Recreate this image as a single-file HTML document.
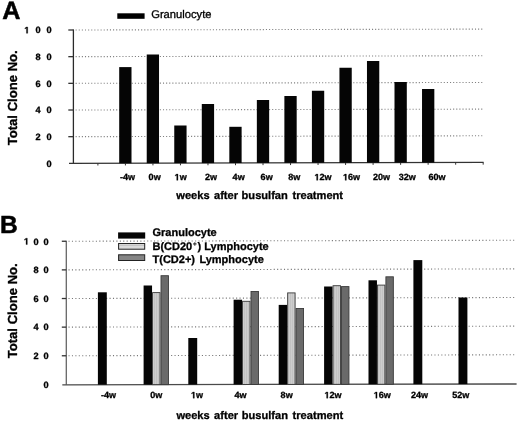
<!DOCTYPE html>
<html><head><meta charset="utf-8"><style>
html,body{margin:0;padding:0;background:#fff;}
body{width:520px;height:423px;overflow:hidden;}
svg{display:block;font-family:"Liberation Sans", sans-serif;will-change:transform;filter:blur(0.25px);text-rendering:geometricPrecision;}
text{stroke:#000;stroke-width:.3px;}
.big{stroke-width:.5px;}
.sup{stroke:#222;fill:#111;stroke-width:.25px;}
.one{stroke:#000;stroke-width:.3px;vector-effect:non-scaling-stroke;}
.grid{stroke:#777;stroke-width:1.1px;}
.gA{stroke:#808080;}
.axis{stroke:#444;stroke-width:1.3px;}
.xaxis{stroke:#333;stroke-width:1.3px;}
.tick{stroke:#333;stroke-width:1.3px;}
</style></head><body>
<svg width="520" height="423" viewBox="0 0 520 423" fill="#000">
<rect width="520" height="423" fill="#fff"/>
<text x="2.2" y="18.7" font-size="25.2" font-weight="bold" class="big">A</text>
<rect x="117.3" y="13.3" width="27.3" height="5.5" fill="#000"/>
<text x="151.2" y="17.8" font-size="11.2">Granulocyte</text>
<line x1="75.60000000000001" y1="136.67" x2="482.8" y2="135.78" class="grid gA" stroke-dasharray="1.1 2.02"/>
<line x1="75.60000000000001" y1="110.00" x2="482.8" y2="109.11" class="grid gA" stroke-dasharray="1.1 2.02"/>
<line x1="75.60000000000001" y1="83.33" x2="482.8" y2="82.44" class="grid gA" stroke-dasharray="1.1 2.02"/>
<line x1="75.60000000000001" y1="56.66" x2="482.8" y2="55.77" class="grid gA" stroke-dasharray="1.1 2.02"/>
<line x1="75.60000000000001" y1="29.99" x2="482.8" y2="29.10" class="grid gA" stroke-dasharray="1.1 2.02"/>
<line x1="73.4" y1="29.40" x2="73.4" y2="163.35" class="axis" style="stroke:#2a2a2a"/>
<line x1="68.3" y1="136.68" x2="73.4" y2="136.68" class="tick"/>
<line x1="68.3" y1="110.01" x2="73.4" y2="110.01" class="tick"/>
<line x1="68.3" y1="83.34" x2="73.4" y2="83.34" class="tick"/>
<line x1="68.3" y1="56.67" x2="73.4" y2="56.67" class="tick"/>
<line x1="68.3" y1="30.00" x2="73.4" y2="30.00" class="tick"/>
<line x1="69.0" y1="163.36" x2="483.6" y2="162.45" class="xaxis"/>
<line x1="97.90" y1="163.30" x2="97.90" y2="165.50" stroke="#333" stroke-width="1"/>
<line x1="125.42" y1="163.23" x2="125.42" y2="165.43" stroke="#333" stroke-width="1"/>
<line x1="152.94" y1="163.17" x2="152.94" y2="165.37" stroke="#333" stroke-width="1"/>
<line x1="180.46" y1="163.11" x2="180.46" y2="165.31" stroke="#333" stroke-width="1"/>
<line x1="207.98" y1="163.05" x2="207.98" y2="165.25" stroke="#333" stroke-width="1"/>
<line x1="235.50" y1="162.99" x2="235.50" y2="165.19" stroke="#333" stroke-width="1"/>
<line x1="263.02" y1="162.93" x2="263.02" y2="165.13" stroke="#333" stroke-width="1"/>
<line x1="290.54" y1="162.87" x2="290.54" y2="165.07" stroke="#333" stroke-width="1"/>
<line x1="318.06" y1="162.81" x2="318.06" y2="165.01" stroke="#333" stroke-width="1"/>
<line x1="345.58" y1="162.75" x2="345.58" y2="164.95" stroke="#333" stroke-width="1"/>
<line x1="373.10" y1="162.69" x2="373.10" y2="164.89" stroke="#333" stroke-width="1"/>
<line x1="400.62" y1="162.63" x2="400.62" y2="164.83" stroke="#333" stroke-width="1"/>
<line x1="428.14" y1="162.57" x2="428.14" y2="164.77" stroke="#333" stroke-width="1"/>
<line x1="455.66" y1="162.51" x2="455.66" y2="164.71" stroke="#333" stroke-width="1"/>
<line x1="483.18" y1="162.45" x2="483.18" y2="164.65" stroke="#333" stroke-width="1"/>
<rect x="119.20" y="67.10" width="12.3" height="96.14" fill="#050505"/>
<rect x="146.73" y="54.50" width="12.3" height="108.67" fill="#050505"/>
<rect x="174.26" y="125.50" width="12.3" height="37.61" fill="#050505"/>
<rect x="201.79" y="104.00" width="12.3" height="59.05" fill="#050505"/>
<rect x="229.32" y="126.80" width="12.3" height="36.19" fill="#050505"/>
<rect x="256.85" y="100.00" width="12.3" height="62.93" fill="#050505"/>
<rect x="284.38" y="96.00" width="12.3" height="66.87" fill="#050505"/>
<rect x="311.91" y="90.75" width="12.3" height="72.06" fill="#050505"/>
<rect x="339.44" y="67.75" width="12.3" height="95.00" fill="#050505"/>
<rect x="366.97" y="61.00" width="12.3" height="101.69" fill="#050505"/>
<rect x="394.50" y="82.00" width="12.3" height="80.63" fill="#050505"/>
<rect x="422.03" y="89.00" width="12.3" height="73.57" fill="#050505"/>
<text x="46.50" y="166.65" font-size="9.2" font-weight="bold" xml:space="preserve">0</text>
<text x="35.40" y="139.98" font-size="9.2" font-weight="bold" xml:space="preserve">2</text>
<text x="46.50" y="139.98" font-size="9.2" font-weight="bold" xml:space="preserve">0</text>
<text x="35.40" y="113.31" font-size="9.2" font-weight="bold" xml:space="preserve">4</text>
<text x="46.50" y="113.31" font-size="9.2" font-weight="bold" xml:space="preserve">0</text>
<text x="35.40" y="86.64" font-size="9.2" font-weight="bold" xml:space="preserve">6</text>
<text x="46.50" y="86.64" font-size="9.2" font-weight="bold" xml:space="preserve">0</text>
<text x="35.40" y="59.97" font-size="9.2" font-weight="bold" xml:space="preserve">8</text>
<text x="46.50" y="59.97" font-size="9.2" font-weight="bold" xml:space="preserve">0</text>
<path class="one" d="M478 0L478 1170L140 959L140 1180L493 1409L759 1409L759 0Z" transform="translate(24.30,33.30) scale(0.00449,-0.00449)"/>
<text x="35.40" y="33.30" font-size="9.2" font-weight="bold" xml:space="preserve">0</text>
<text x="46.50" y="33.30" font-size="9.2" font-weight="bold" xml:space="preserve">0</text>
<text x="120.00" y="180.30" font-size="9.05" font-weight="bold" xml:space="preserve">-4w</text>
<text x="148.60" y="180.30" font-size="9.05" font-weight="bold" xml:space="preserve">0w</text>
<path class="one" d="M478 0L478 1170L140 959L140 1180L493 1409L759 1409L759 0Z" transform="translate(174.60,180.30) scale(0.00442,-0.00442)"/><text x="179.63" y="180.30" font-size="9.05" font-weight="bold" xml:space="preserve">w</text>
<text x="205.00" y="180.30" font-size="9.05" font-weight="bold" xml:space="preserve">2w</text>
<text x="232.60" y="180.30" font-size="9.05" font-weight="bold" xml:space="preserve">4w</text>
<text x="260.60" y="180.30" font-size="9.05" font-weight="bold" xml:space="preserve">6w</text>
<text x="288.30" y="180.30" font-size="9.05" font-weight="bold" xml:space="preserve">8w</text>
<path class="one" d="M478 0L478 1170L140 959L140 1180L493 1409L759 1409L759 0Z" transform="translate(314.50,180.30) scale(0.00442,-0.00442)"/><text x="319.53" y="180.30" font-size="9.05" font-weight="bold" xml:space="preserve">2w</text>
<path class="one" d="M478 0L478 1170L140 959L140 1180L493 1409L759 1409L759 0Z" transform="translate(343.00,180.30) scale(0.00442,-0.00442)"/><text x="348.03" y="180.30" font-size="9.05" font-weight="bold" xml:space="preserve">6w</text>
<text x="373.00" y="180.30" font-size="9.05" font-weight="bold" xml:space="preserve">20w</text>
<text x="398.80" y="180.30" font-size="9.05" font-weight="bold" xml:space="preserve">32w</text>
<text x="428.40" y="180.30" font-size="9.05" font-weight="bold" xml:space="preserve">60w</text>
<text x="176.30" y="198.8" font-size="11.1" font-weight="bold">weeks</text><text x="214.00" y="198.8" font-size="11.1" font-weight="bold">after</text><text x="241.60" y="198.8" font-size="11.1" font-weight="bold">busulfan</text><text x="292.50" y="198.8" font-size="11.1" font-weight="bold">treatment</text>
<text transform="translate(17.2,145.3) rotate(-90)" x="0" y="0" font-size="13.1" font-weight="bold">Total Clone No.</text>
<text x="0.0" y="232.8" font-size="24.6" font-weight="bold" class="big">B</text>
<line x1="68.5" y1="355.76" x2="516" y2="354.78" class="grid" stroke-dasharray="1.1 2.32"/>
<line x1="68.5" y1="327.13" x2="516" y2="326.15" class="grid" stroke-dasharray="1.1 2.32"/>
<line x1="68.5" y1="298.50" x2="516" y2="297.52" class="grid" stroke-dasharray="1.1 2.32"/>
<line x1="68.5" y1="269.87" x2="516" y2="268.89" class="grid" stroke-dasharray="1.1 2.32"/>
<line x1="68.5" y1="241.24" x2="516" y2="240.26" class="grid" stroke-dasharray="1.1 2.32"/>
<line x1="66.3" y1="240.65" x2="66.3" y2="384.79" class="axis" style="stroke:#666"/>
<line x1="61.8" y1="355.77" x2="66.3" y2="355.77" class="tick"/>
<line x1="61.8" y1="327.14" x2="66.3" y2="327.14" class="tick"/>
<line x1="61.8" y1="298.51" x2="66.3" y2="298.51" class="tick"/>
<line x1="61.8" y1="269.88" x2="66.3" y2="269.88" class="tick"/>
<line x1="61.8" y1="241.25" x2="66.3" y2="241.25" class="tick"/>
<line x1="62.3" y1="384.80" x2="516.6" y2="384.00" class="xaxis" style="stroke:#4a4a4a"/>
<defs><pattern id="dots" width="2" height="2" patternUnits="userSpaceOnUse"><rect width="2" height="2" fill="#cdcdcd"/><rect width="1" height="2" fill="#c2c2c2"/></pattern></defs>
<rect x="118.1" y="232.4" width="27.1" height="6.2" fill="#050505"/>
<rect x="118.6" y="243.5" width="26.1" height="5.7" fill="#dadada" stroke="#222" stroke-width="1"/>
<line x1="119.3" y1="245.3" x2="144.0" y2="245.3" stroke="#b8b8b8" stroke-width="0.8"/>
<rect x="118.6" y="254.8" width="26.1" height="5.7" fill="#858585" stroke="#222" stroke-width="1"/>
<text x="152.5" y="236.4" font-size="11" font-weight="bold">Granulocyte</text>
<text x="152.5" y="249.6" font-size="11" font-weight="bold">B(CD20</text>
<text x="192.9" y="246.0" font-size="6.2" font-weight="bold" class="sup">+</text>
<text x="197.5" y="249.6" font-size="11" font-weight="bold">)</text>
<text x="204.3" y="249.6" font-size="11" font-weight="bold">Lymphocyte</text>
<text x="152.5" y="262.9" font-size="11" font-weight="bold">T(CD2+)</text>
<text x="199.4" y="262.9" font-size="11" font-weight="bold">Lymphocyte</text>
<rect x="97.90" y="292.30" width="8.9" height="92.42" fill="#050505"/>
<rect x="143.60" y="285.50" width="8.45" height="99.14" fill="#050505"/>
<rect x="152.55" y="292.60" width="7.449999999999999" height="92.04" fill="url(#dots)" stroke="#3a3a3a" stroke-width="0.9"/>
<rect x="161.00" y="275.70" width="7.449999999999999" height="108.94" fill="#6a6a6a" stroke="#3a3a3a" stroke-width="0.9"/>
<rect x="188.30" y="338.00" width="8.9" height="46.56" fill="#050505"/>
<rect x="233.60" y="299.70" width="8.45" height="84.78" fill="#050505"/>
<rect x="242.55" y="301.30" width="7.449999999999999" height="83.18" fill="url(#dots)" stroke="#3a3a3a" stroke-width="0.9"/>
<rect x="251.00" y="291.50" width="7.449999999999999" height="92.98" fill="#6a6a6a" stroke="#3a3a3a" stroke-width="0.9"/>
<rect x="278.70" y="304.90" width="8.45" height="79.50" fill="#050505"/>
<rect x="287.65" y="292.90" width="7.449999999999999" height="91.50" fill="url(#dots)" stroke="#3a3a3a" stroke-width="0.9"/>
<rect x="296.10" y="308.50" width="7.449999999999999" height="75.90" fill="#6a6a6a" stroke="#3a3a3a" stroke-width="0.9"/>
<rect x="324.10" y="286.50" width="8.45" height="97.82" fill="#050505"/>
<rect x="333.05" y="285.70" width="7.449999999999999" height="98.62" fill="url(#dots)" stroke="#3a3a3a" stroke-width="0.9"/>
<rect x="341.50" y="286.60" width="7.449999999999999" height="97.72" fill="#6a6a6a" stroke="#3a3a3a" stroke-width="0.9"/>
<rect x="368.50" y="280.30" width="8.45" height="103.94" fill="#050505"/>
<rect x="377.45" y="285.10" width="7.449999999999999" height="99.14" fill="url(#dots)" stroke="#3a3a3a" stroke-width="0.9"/>
<rect x="385.90" y="276.80" width="7.449999999999999" height="107.44" fill="#6a6a6a" stroke="#3a3a3a" stroke-width="0.9"/>
<rect x="413.40" y="260.10" width="8.9" height="124.06" fill="#050505"/>
<rect x="458.50" y="297.50" width="8.9" height="86.58" fill="#050505"/>
<text x="43.50" y="387.70" font-size="9.2" font-weight="bold" xml:space="preserve">0</text>
<text x="33.50" y="359.07" font-size="9.2" font-weight="bold" xml:space="preserve">2</text>
<text x="43.50" y="359.07" font-size="9.2" font-weight="bold" xml:space="preserve">0</text>
<text x="33.50" y="330.44" font-size="9.2" font-weight="bold" xml:space="preserve">4</text>
<text x="43.50" y="330.44" font-size="9.2" font-weight="bold" xml:space="preserve">0</text>
<text x="33.50" y="301.81" font-size="9.2" font-weight="bold" xml:space="preserve">6</text>
<text x="43.50" y="301.81" font-size="9.2" font-weight="bold" xml:space="preserve">0</text>
<text x="33.50" y="273.18" font-size="9.2" font-weight="bold" xml:space="preserve">8</text>
<text x="43.50" y="273.18" font-size="9.2" font-weight="bold" xml:space="preserve">0</text>
<path class="one" d="M478 0L478 1170L140 959L140 1180L493 1409L759 1409L759 0Z" transform="translate(23.90,244.55) scale(0.00449,-0.00449)"/>
<text x="33.50" y="244.55" font-size="9.2" font-weight="bold" xml:space="preserve">0</text>
<text x="43.50" y="244.55" font-size="9.2" font-weight="bold" xml:space="preserve">0</text>
<text x="101.00" y="398.20" font-size="9.05" font-weight="bold" xml:space="preserve">-4w</text>
<text x="150.30" y="398.20" font-size="9.05" font-weight="bold" xml:space="preserve">0w</text>
<path class="one" d="M478 0L478 1170L140 959L140 1180L493 1409L759 1409L759 0Z" transform="translate(191.00,398.20) scale(0.00442,-0.00442)"/><text x="196.03" y="398.20" font-size="9.05" font-weight="bold" xml:space="preserve">w</text>
<text x="234.40" y="398.20" font-size="9.05" font-weight="bold" xml:space="preserve">4w</text>
<text x="280.60" y="398.20" font-size="9.05" font-weight="bold" xml:space="preserve">8w</text>
<path class="one" d="M478 0L478 1170L140 959L140 1180L493 1409L759 1409L759 0Z" transform="translate(324.50,398.20) scale(0.00442,-0.00442)"/><text x="329.53" y="398.20" font-size="9.05" font-weight="bold" xml:space="preserve">2w</text>
<path class="one" d="M478 0L478 1170L140 959L140 1180L493 1409L759 1409L759 0Z" transform="translate(373.70,398.20) scale(0.00442,-0.00442)"/><text x="378.73" y="398.20" font-size="9.05" font-weight="bold" xml:space="preserve">6w</text>
<text x="411.00" y="398.20" font-size="9.05" font-weight="bold" xml:space="preserve">24w</text>
<text x="452.20" y="398.20" font-size="9.05" font-weight="bold" xml:space="preserve">52w</text>
<text x="176.40" y="419.4" font-size="11.1" font-weight="bold">weeks</text><text x="214.10" y="419.4" font-size="11.1" font-weight="bold">after</text><text x="241.70" y="419.4" font-size="11.1" font-weight="bold">busulfan</text><text x="292.60" y="419.4" font-size="11.1" font-weight="bold">treatment</text>
<text transform="translate(17.2,358.3) rotate(-90)" x="0" y="0" font-size="13.1" font-weight="bold">Total Clone No.</text>
</svg>
</body></html>
